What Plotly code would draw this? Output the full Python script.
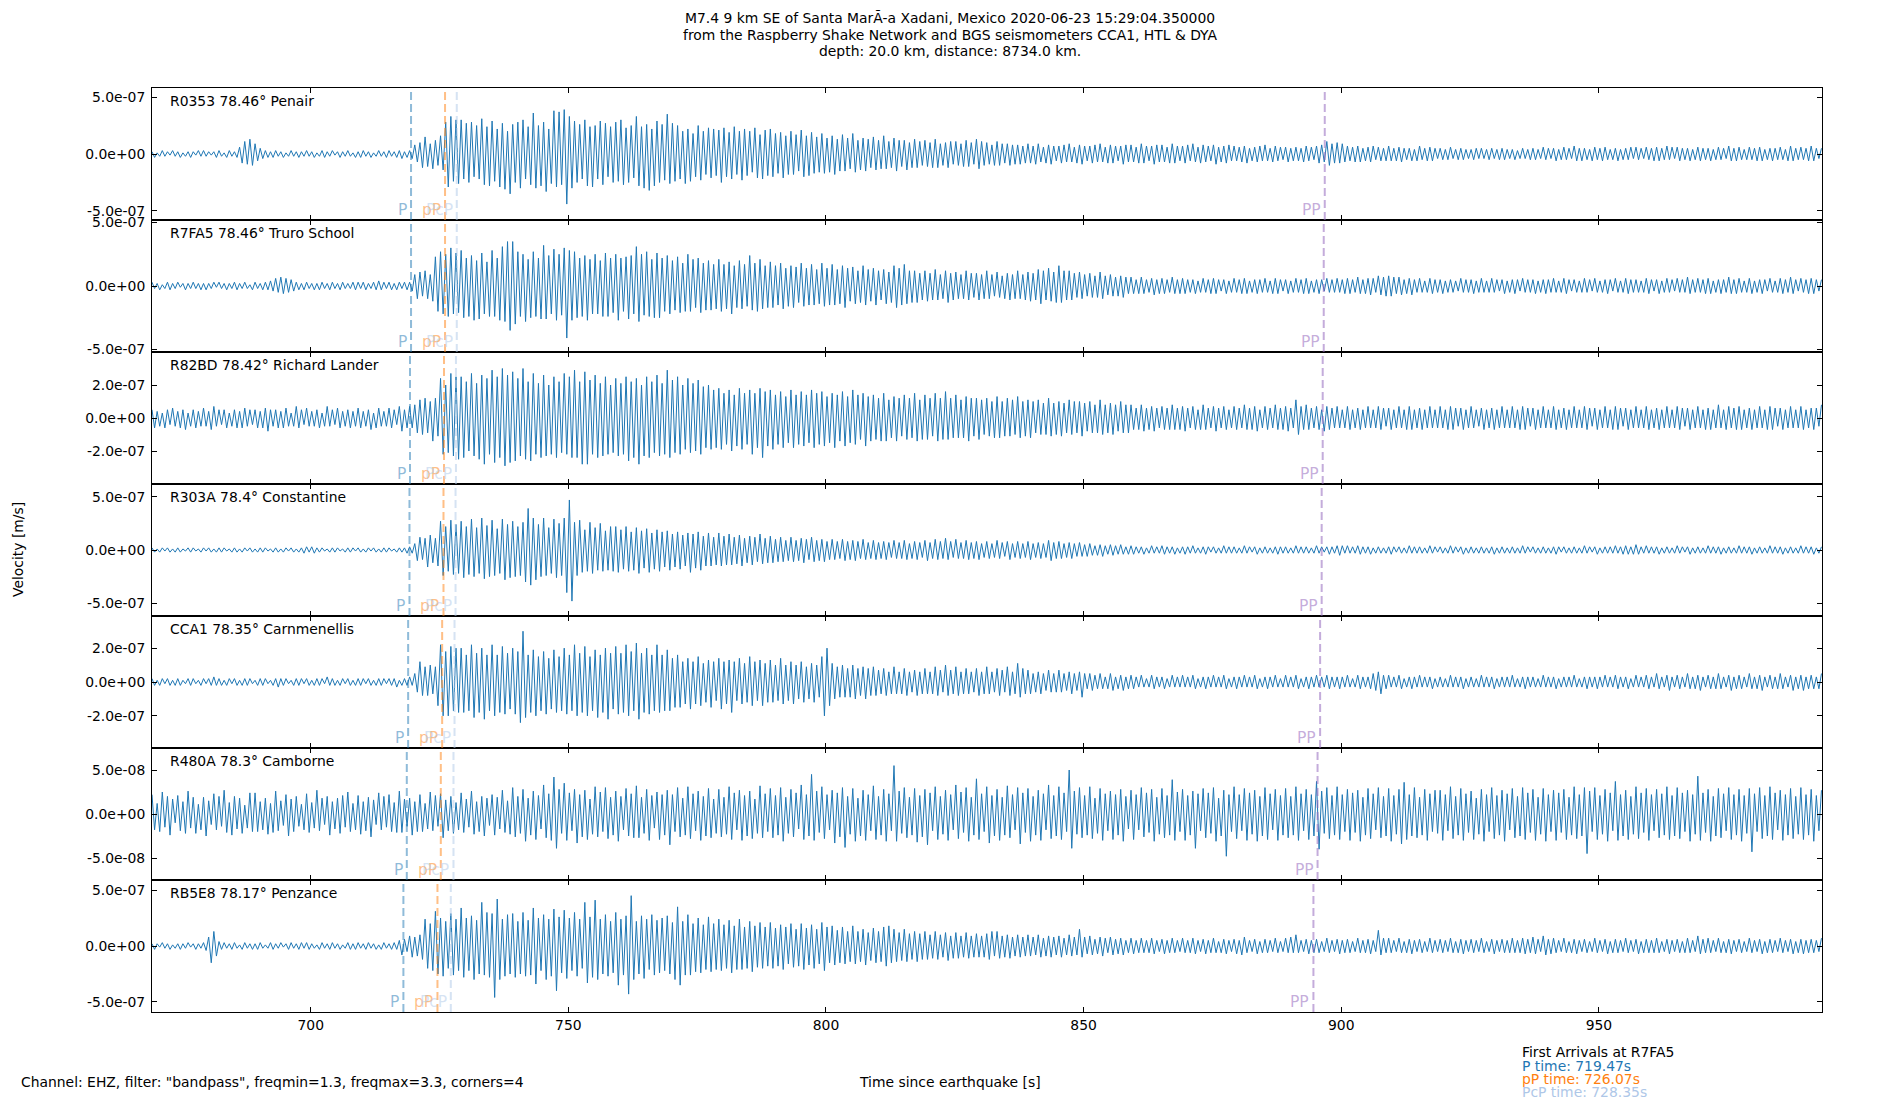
import plotly.graph_objects as go
from plotly.subplots import make_subplots

# traces, one value every half second from T0
T0 = 669.2
DT = 0.5

stations = ["R0353", "R7FA5", "R82BD", "R303A", "CCA1", "R480A", "RB5E8"]
distances = [78.46, 78.46, 78.42, 78.4, 78.35, 78.3, 78.17]
places = ["Penair", "Truro School", "Richard Lander", "Constantine",
          "Carnmenellis", "Camborne", "Penzance"]
units = [1e-8, 1e-8, 1e-8, 1e-8, 1e-8, 1e-9, 1e-8]   # m/s per list unit

# each row is 10 s
vel_r0353 = [
    2, -3, 1, -2, 3, -2, 2, -1, 3, -2, 2, -3, 1, -2, 2, -3, 2, -1, 3, -2,
    3, -2, 2, -1, 2, -3, 3, -2, 1, -3, 3, -2, 2, -3, 6, -8, 11, -9, 13, -10,
    9, -6, 5, -4, 3, -3, 2, -3, 3, -2, 2, -3, 1, -2, 3, -2, 2, -3, 2, -2,
    3, -2, 2, -3, 1, -2, 3, -3, 2, -2, 3, -1, 2, -3, 2, -2, 3, -2, 1, -3,
    2, -3, 3, -2, 2, -3, 1, -2, 3, -2, 2, -3, 3, -2, 2, -3, 3, -4, 2, -3,
    3, -4, 8, -7, 10, -12, 15, -11, 9, -13, 12, -10, 16, -14, 28, -29, 33, -24, 30, -26,
    30, -22, 27, -25, 28, -20, 25, -22, 31, -27, 24, -28, 29, -24, 22, -29, 27, -31, 20, -35,
    26, -25, 28, -30, 30, -22, 24, -27, 36, -30, 25, -28, 28, -33, 22, -26, 38, -29, 37, -27,
    39, -44, 33, -30, 29, -25, 26, -22, 30, -28, 24, -29, 25, -22, 29, -27, 27, -20, 24, -25,
    28, -24, 30, -27, 23, -25, 25, -21, 33, -28, 24, -30, 26, -32, 22, -28, 29, -25, 26, -23,
    35, -26, 27, -24, 25, -22, 20, -26, 22, -24, 18, -20, 25, -23, 20, -18, 23, -21, 22, -19,
    21, -25, 23, -20, 19, -22, 24, -18, 20, -23, 22, -19, 20, -16, 23, -21, 17, -22, 21, -19,
    22, -20, 18, -17, 19, -21, 16, -18, 20, -18, 17, -15, 21, -20, 16, -19, 19, -17, 15, -16,
    18, -17, 14, -16, 16, -18, 13, -15, 17, -15, 14, -13, 18, -16, 12, -14, 14, -15, 13, -12,
    15, -14, 12, -13, 16, -13, 11, -12, 14, -15, 12, -11, 12, -14, 10, -12, 13, -12, 11, -10,
    12, -11, 10, -12, 13, -12, 9, -10, 10, -12, 11, -9, 11, -10, 9, -11, 12, -11, 10, -9,
    13, -13, 11, -10, 10, -9, 8, -10, 11, -10, 9, -8, 9, -10, 8, -9, 8, -9, 7, -8,
    9, -8, 7, -9, 9, -7, 6, -8, 8, -9, 7, -6, 7, -8, 8, -7, 9, -7, 6, -8,
    8, -9, 7, -6, 7, -8, 8, -7, 9, -7, 6, -8, 8, -8, 7, -6, 7, -9, 8, -7,
    8, -7, 6, -8, 9, -8, 7, -6, 7, -9, 8, -7, 8, -7, 6, -8, 9, -8, 7, -6,
    7, -8, 8, -6, 9, -7, 6, -8, 8, -7, 7, -6, 8, -9, 6, -7, 7, -8, 8, -6,
    7, -6, 6, -7, 7, -8, 5, -6, 6, -7, 7, -6, 8, -6, 5, -7, 7, -6, 6, -5,
    6, -7, 5, -6, 6, -6, 5, -7, 7, -6, 6, -5, 7, -8, 8, -7, 11, -10, 9, -8,
    10, -8, 9, -7, 7, -6, 6, -7, 7, -7, 5, -6, 6, -7, 7, -5, 6, -6, 5, -6,
    7, -6, 5, -6, 6, -7, 5, -5, 5, -6, 4, -6, 7, -5, 5, -6, 6, -6, 5, -4,
    5, -5, 4, -5, 6, -4, 4, -5, 5, -5, 4, -4, 4, -5, 5, -4, 5, -4, 4, -5,
    5, -4, 4, -5, 5, -5, 4, -4, 4, -5, 3, -4, 5, -4, 4, -5, 5, -5, 4, -4,
    6, -5, 5, -4, 5, -6, 4, -5, 6, -5, 5, -4, 7, -6, 5, -6, 5, -5, 4, -6,
    6, -5, 5, -6, 6, -5, 4, -5, 5, -6, 4, -5, 5, -5, 6, -4, 6, -5, 5, -4,
    6, -5, 5, -6, 6, -6, 5, -5, 7, -5, 6, -4, 6, -6, 5, -5, 5, -6, 4, -5,
    6, -6, 5, -5, 5, -6, 4, -5, 6, -5, 5, -4, 7, -6, 5, -6, 6, -5, 4, -5,
    6, -5, 5, -6, 6, -6, 4, -5, 5, -6, 5, -5, 6, -5, 4, -6, 7, -6, 5, -5,
    6, -5, 5, -6, 7, -6, 5, -4, 5,
]

vel_r7fa5 = [
    3, -2, 2, -3, 1, -2, 3, -3, 2, -2, 3, -1, 2, -3, 2, -2, 3, -2, 2, -3,
    2, -3, 2, -2, 3, -1, 3, -2, 2, -3, 2, -2, 3, -3, 2, -2, 3, -2, 1, -3,
    3, -2, 2, -3, 3, -3, 4, -4, 6, -5, 7, -6, 6, -5, 5, -4, 3, -3, 2, -3,
    3, -2, 2, -3, 2, -3, 3, -2, 2, -3, 3, -2, 2, -3, 3, -2, 2, -2, 3, -3,
    3, -2, 3, -3, 2, -2, 3, -3, 4, -3, 3, -2, 3, -3, 2, -3, 3, -2, 3, -3,
    3, -4, 9, -10, 11, -8, 12, -10, 9, -12, 23, -20, 27, -22, 25, -24, 30, -22, 26, -21,
    28, -25, 22, -24, 24, -27, 20, -26, 26, -22, 19, -24, 28, -24, 22, -27, 31, -28, 35, -35,
    35, -30, 27, -24, 25, -28, 21, -25, 27, -24, 22, -26, 32, -26, 24, -22, 29, -27, 25, -23,
    30, -41, 28, -27, 27, -25, 22, -24, 24, -27, 21, -22, 25, -22, 20, -24, 26, -24, 22, -21,
    25, -27, 22, -20, 23, -26, 24, -22, 31, -28, 25, -23, 27, -24, 21, -25, 26, -25, 22, -20,
    24, -22, 20, -19, 23, -21, 18, -20, 25, -20, 21, -17, 22, -21, 18, -19, 20, -19, 17, -18,
    21, -20, 17, -18, 19, -22, 16, -17, 20, -18, 17, -16, 24, -19, 18, -20, 21, -18, 16, -17,
    19, -17, 16, -15, 18, -18, 14, -16, 16, -17, 15, -13, 18, -16, 14, -15, 17, -15, 13, -14,
    18, -16, 14, -15, 17, -15, 13, -14, 16, -17, 14, -12, 15, -14, 12, -13, 16, -15, 13, -12,
    14, -15, 12, -11, 13, -14, 11, -13, 16, -17, 14, -15, 17, -14, 12, -13, 12, -13, 10, -11,
    12, -12, 10, -11, 13, -11, 9, -10, 12, -13, 10, -11, 11, -10, 9, -10, 12, -11, 10, -9,
    10, -11, 9, -10, 12, -10, 9, -8, 11, -9, 8, -10, 10, -11, 9, -10, 12, -10, 9, -11,
    11, -12, 10, -11, 13, -14, 12, -11, 14, -12, 11, -13, 16, -13, 12, -11, 12, -11, 10, -9,
    11, -10, 9, -8, 10, -9, 8, -9, 11, -10, 8, -7, 9, -8, 7, -8, 8, -9, 7, -6,
    7, -6, 5, -6, 7, -6, 5, -5, 6, -7, 5, -6, 6, -6, 5, -5, 7, -6, 5, -6,
    6, -6, 5, -5, 5, -6, 4, -5, 6, -5, 5, -6, 6, -6, 5, -4, 5, -6, 4, -5,
    6, -5, 5, -6, 6, -6, 4, -5, 5, -6, 5, -5, 6, -5, 4, -6, 6, -6, 5, -4,
    5, -6, 4, -5, 6, -5, 5, -6, 6, -6, 4, -5, 5, -6, 5, -4, 6, -5, 5, -5,
    6, -5, 5, -6, 6, -6, 5, -5, 7, -6, 5, -6, 6, -7, 6, -5, 8, -7, 7, -8,
    8, -8, 7, -6, 7, -7, 5, -6, 6, -7, 5, -5, 6, -5, 4, -5, 6, -6, 5, -5,
    5, -6, 4, -5, 5, -5, 4, -4, 6, -5, 5, -5, 5, -6, 4, -5, 6, -5, 4, -5,
    6, -5, 5, -4, 5, -6, 4, -5, 5, -6, 5, -4, 6, -5, 5, -5, 5, -6, 4, -5,
    5, -6, 5, -5, 6, -5, 4, -5, 6, -6, 5, -4, 5, -5, 4, -5, 6, -5, 5, -4,
    6, -5, 4, -5, 5, -6, 5, -4, 6, -5, 4, -5, 6, -6, 5, -5, 5, -5, 4, -5,
    6, -6, 5, -4, 5, -6, 4, -5, 6, -5, 5, -4, 6, -5, 5, -5, 7, -6, 5, -5,
    6, -5, 5, -6, 6, -6, 4, -5, 5, -6, 5, -5, 7, -6, 5, -6, 6, -5, 4, -5,
    6, -6, 4, -5, 5, -6, 5, -4, 6, -5, 4, -5, 6, -6, 5, -5, 7, -6, 5, -4,
    6, -5, 5, -6, 6, -6, 5, -4, 5,
]

vel_r82bd = [
    5, -6, 4, -5, 3, -6, 5, -4, 6, -5, 4, -6, 5, -7, 3, -5, 5, -6, 4, -5,
    6, -5, 4, -7, 7, -5, 5, -4, 5, -6, 3, -5, 5, -6, 4, -6, 6, -5, 5, -4,
    5, -6, 4, -6, 6, -8, 5, -5, 5, -6, 4, -6, 6, -5, 3, -5, 7, -6, 5, -4,
    6, -5, 4, -5, 5, -6, 3, -5, 7, -5, 5, -4, 6, -6, 4, -5, 5, -6, 4, -5,
    6, -6, 4, -5, 5, -7, 3, -6, 6, -5, 4, -5, 6, -6, 5, -4, 7, -8, 5, -6,
    7, -6, 8, -9, 11, -10, 12, -9, 10, -14, 12, -11, 24, -22, 20, -21, 27, -23, 25, -25,
    25, -24, 22, -20, 27, -23, 21, -25, 26, -28, 24, -22, 29, -27, 25, -24, 30, -29, 26, -27,
    28, -26, 24, -23, 30, -25, 22, -26, 27, -22, 21, -24, 26, -23, 20, -22, 25, -24, 22, -21,
    27, -22, 25, -24, 29, -24, 22, -28, 28, -28, 23, -22, 26, -24, 21, -23, 25, -22, 20, -21,
    24, -23, 21, -22, 25, -26, 22, -24, 24, -28, 20, -23, 25, -24, 22, -21, 26, -23, 21, -22,
    29, -24, 23, -21, 25, -22, 20, -19, 24, -21, 21, -20, 23, -22, 19, -18, 20, -19, 17, -18,
    18, -19, 15, -16, 17, -20, 14, -17, 18, -19, 15, -16, 17, -22, 15, -18, 18, -24, 16, -17,
    17, -19, 14, -16, 16, -18, 13, -15, 17, -18, 14, -16, 16, -17, 14, -15, 17, -18, 15, -16,
    16, -17, 13, -15, 15, -18, 14, -14, 16, -17, 13, -15, 17, -16, 14, -13, 15, -17, 13, -14,
    14, -13, 12, -14, 15, -14, 11, -12, 13, -14, 12, -11, 14, -13, 12, -12, 15, -14, 11, -13,
    14, -13, 12, -11, 15, -14, 12, -13, 16, -13, 12, -12, 14, -12, 11, -12, 13, -14, 12, -11,
    12, -13, 11, -10, 12, -11, 10, -12, 13, -12, 10, -11, 12, -11, 11, -10, 13, -12, 10, -11,
    11, -12, 10, -9, 11, -10, 9, -10, 12, -11, 9, -10, 10, -11, 9, -9, 11, -10, 10, -9,
    10, -11, 9, -8, 10, -9, 8, -9, 11, -10, 8, -9, 9, -10, 8, -8, 10, -9, 8, -9,
    8, -7, 6, -7, 8, -8, 6, -7, 7, -8, 6, -6, 7, -7, 6, -7, 8, -7, 6, -7,
    7, -8, 6, -6, 7, -7, 5, -7, 8, -7, 6, -6, 7, -8, 6, -6, 7, -7, 5, -6,
    7, -7, 6, -6, 8, -7, 6, -7, 7, -8, 5, -6, 7, -7, 6, -6, 8, -7, 6, -7,
    7, -8, 6, -6, 11, -10, 7, -7, 8, -7, 6, -6, 7, -7, 5, -8, 7, -7, 6, -6,
    7, -6, 5, -6, 7, -7, 5, -6, 6, -7, 5, -6, 7, -6, 5, -6, 7, -7, 6, -5,
    6, -7, 5, -6, 7, -6, 5, -7, 7, -7, 5, -6, 6, -7, 5, -6, 7, -6, 5, -6,
    7, -6, 5, -7, 7, -7, 6, -5, 6, -7, 5, -6, 7, -6, 5, -5, 6, -7, 5, -6,
    6, -7, 5, -6, 7, -6, 5, -6, 7, -6, 5, -7, 7, -7, 6, -5, 6, -7, 5, -6,
    7, -6, 5, -6, 7, -7, 5, -6, 6, -7, 5, -6, 7, -6, 5, -6, 7, -7, 6, -5,
    6, -7, 5, -6, 7, -6, 5, -7, 7, -7, 6, -5, 6, -7, 5, -6, 7, -6, 5, -6,
    7, -7, 5, -6, 6, -7, 5, -6, 7, -6, 5, -6, 7, -7, 6, -5, 6, -7, 5, -6,
    7, -6, 5, -7, 6, -7, 5, -6, 8, -6, 5, -7, 7, -6, 6, -7, 7, -7, 5, -6,
    6, -7, 5, -6, 7, -6, 5, -7, 7, -7, 6, -5, 6, -7, 5, -6, 7, -6, 5, -6,
    7, -7, 5, -6, 6, -7, 6, -5, 8,
]

vel_r303a = [
    2, -2, 1, -2, 2, -1, 2, -2, 1, -2, 2, -2, 1, -1, 2, -2, 2, -1, 1, -2,
    2, -1, 2, -2, 1, -2, 2, -2, 2, -1, 1, -2, 2, -2, 1, -2, 2, -1, 2, -2,
    1, -2, 2, -2, 2, -1, 1, -2, 2, -2, 1, -2, 2, -1, 2, -2, 1, -2, 2, -3,
    3, -2, 3, -3, 2, -2, 2, -1, 1, -2, 2, -2, 2, -1, 1, -2, 2, -2, 2, -1,
    2, -2, 1, -2, 2, -1, 2, -2, 1, -2, 2, -2, 2, -1, 1, -2, 2, -2, 2, -3,
    3, -3, 6, -10, 12, -9, 11, -16, 14, -12, 11, -15, 27, -24, 22, -20, 28, -23, 24, -22,
    27, -26, 22, -23, 29, -25, 21, -22, 30, -27, 23, -25, 28, -24, 20, -22, 29, -28, 24, -26,
    27, -25, 22, -24, 26, -30, 39, -33, 30, -28, 24, -25, 30, -24, 21, -22, 29, -26, 25, -24,
    30, -40, 47, -48, 26, -24, 28, -21, 19, -20, 26, -22, 21, -19, 25, -20, 18, -19, 22, -20,
    22, -21, 19, -18, 22, -20, 17, -19, 21, -22, 18, -17, 20, -21, 16, -18, 19, -20, 17, -16,
    18, -19, 15, -16, 17, -18, 14, -15, 16, -21, 15, -17, 17, -19, 13, -15, 16, -15, 12, -14,
    16, -15, 13, -14, 15, -14, 12, -13, 14, -15, 11, -12, 13, -14, 12, -11, 15, -13, 11, -12,
    13, -12, 10, -11, 12, -11, 9, -10, 12, -11, 9, -10, 11, -12, 10, -9, 12, -11, 9, -10,
    10, -11, 8, -9, 10, -9, 8, -8, 10, -10, 8, -9, 9, -10, 8, -8, 10, -9, 7, -8,
    9, -9, 7, -8, 8, -9, 7, -7, 9, -8, 7, -8, 9, -9, 6, -8, 8, -9, 7, -7,
    9, -10, 7, -8, 10, -9, 8, -8, 11, -9, 8, -7, 10, -8, 7, -8, 9, -9, 7, -8,
    8, -9, 6, -7, 8, -8, 6, -7, 9, -8, 7, -6, 8, -9, 6, -7, 8, -8, 6, -7,
    8, -9, 6, -7, 7, -8, 6, -7, 9, -10, 7, -8, 8, -8, 6, -7, 7, -8, 6, -6,
    7, -6, 5, -6, 6, -5, 4, -5, 5, -6, 4, -4, 5, -5, 4, -4, 5, -4, 3, -4,
    4, -4, 3, -3, 3, -4, 2, -3, 4, -3, 3, -3, 4, -4, 3, -3, 3, -4, 2, -3,
    3, -4, 3, -3, 4, -3, 2, -3, 3, -4, 3, -2, 3, -3, 2, -3, 4, -3, 3, -3,
    3, -3, 2, -3, 4, -3, 3, -2, 3, -4, 2, -3, 3, -3, 2, -3, 3, -4, 3, -3,
    3, -3, 2, -3, 4, -3, 3, -3, 3, -3, 2, -3, 4, -3, 3, -2, 3, -4, 3, -3,
    4, -5, 4, -3, 4, -3, 3, -3, 4, -4, 3, -3, 3, -4, 2, -3, 3, -3, 2, -3,
    3, -4, 3, -2, 3, -3, 2, -3, 4, -3, 3, -3, 3, -3, 2, -3, 4, -3, 3, -2,
    3, -3, 2, -3, 4, -3, 3, -2, 3, -4, 2, -3, 3, -3, 2, -3, 3, -3, 2, -3,
    3, -4, 2, -3, 3, -3, 2, -3, 3, -3, 2, -3, 4, -3, 3, -2, 3, -3, 2, -3,
    3, -3, 2, -3, 3, -4, 3, -2, 3, -3, 2, -3, 3, -3, 2, -3, 4, -3, 3, -2,
    3, -4, 2, -3, 3, -3, 3, -3, 4, -3, 3, -4, 4, -4, 3, -4, 5, -4, 3, -3,
    4, -3, 3, -3, 3, -4, 2, -3, 3, -3, 2, -3, 4, -3, 3, -2, 3, -4, 2, -3,
    3, -3, 2, -3, 4, -3, 3, -3, 3, -4, 2, -3, 3, -3, 2, -3, 4, -3, 3, -3,
    3, -4, 2, -3, 3, -3, 2, -3, 4, -3, 3, -3, 3, -4, 2, -3, 3, -3, 2, -3,
    4, -3, 3, -3, 3, -4, 2, -3, 3,
]

vel_cca1 = [
    2, -2, 1, -2, 2, -1, 2, -2, 1, -2, 2, -2, 1, -1, 2, -2, 2, -1, 1, -2,
    2, -1, 2, -2, 3, -2, 2, -2, 1, -2, 2, -1, 2, -2, 1, -2, 2, -2, 2, -1,
    1, -2, 2, -2, 2, -1, 1, -2, 2, -3, 2, -2, 2, -1, 1, -2, 2, -2, 2, -1,
    2, -2, 1, -2, 2, -2, 2, -1, 3, -2, 2, -2, 1, -2, 2, -1, 2, -2, 1, -2,
    2, -2, 2, -1, 2, -2, 1, -2, 2, -2, 2, -1, 2, -2, 2, -3, 1, -2, 2, -2,
    3, -2, 5, -6, 12, -8, 9, -8, 10, -7, 9, -14, 22, -20, 18, -20, 21, -17, 20, -18,
    20, -18, 16, -17, 22, -21, 17, -18, 20, -22, 16, -17, 22, -20, 16, -18, 21, -19, 17, -16,
    20, -19, 18, -24, 30, -21, 16, -18, 19, -20, 15, -17, 18, -19, 14, -16, 19, -18, 15, -17,
    20, -19, 16, -17, 22, -20, 17, -18, 21, -20, 15, -17, 19, -21, 16, -18, 20, -22, 17, -16,
    21, -19, 17, -18, 22, -20, 18, -17, 23, -22, 17, -18, 20, -19, 16, -17, 22, -18, 16, -17,
    19, -17, 14, -15, 16, -15, 12, -13, 14, -16, 12, -13, 15, -14, 11, -12, 13, -15, 12, -11,
    14, -16, 12, -13, 13, -18, 12, -11, 14, -13, 11, -12, 15, -14, 12, -11, 13, -14, 11, -12,
    13, -12, 10, -11, 14, -13, 10, -11, 12, -13, 10, -10, 12, -12, 9, -10, 11, -12, 10, -9,
    15, -20, 20, -14, 11, -10, 9, -9, 10, -9, 8, -9, 10, -10, 8, -8, 9, -10, 8, -8,
    9, -8, 7, -7, 8, -8, 6, -7, 9, -7, 6, -7, 8, -8, 6, -6, 7, -8, 6, -7,
    8, -7, 6, -7, 9, -8, 7, -6, 10, -8, 7, -7, 9, -8, 6, -7, 8, -7, 6, -6,
    8, -8, 6, -7, 9, -7, 6, -6, 8, -8, 7, -6, 9, -8, 6, -7, 11, -9, 8, -7,
    7, -7, 5, -6, 6, -7, 5, -5, 7, -6, 5, -6, 7, -6, 5, -5, 6, -7, 5, -5,
    6, -9, 5, -4, 5, -5, 4, -4, 5, -4, 3, -4, 5, -5, 3, -4, 4, -5, 3, -4,
    4, -4, 3, -3, 4, -3, 2, -3, 4, -4, 3, -3, 3, -4, 2, -3, 4, -3, 3, -3,
    4, -3, 3, -3, 4, -4, 2, -3, 3, -4, 3, -3, 4, -3, 3, -3, 4, -4, 2, -3,
    3, -4, 3, -3, 4, -3, 3, -3, 4, -4, 2, -3, 3, -4, 3, -3, 4, -3, 2, -3,
    4, -3, 3, -3, 4, -4, 2, -3, 3, -4, 3, -3, 4, -3, 3, -3, 4, -4, 3, -3,
    3, -4, 3, -3, 4, -3, 2, -3, 4, -4, 3, -3, 3, -4, 5, -5, 6, -7, 4, -4,
    4, -3, 3, -3, 4, -4, 2, -3, 3, -4, 3, -3, 4, -3, 3, -3, 3, -4, 2, -3,
    3, -3, 2, -3, 4, -3, 3, -3, 3, -4, 2, -3, 3, -3, 2, -3, 4, -3, 3, -3,
    3, -4, 2, -3, 3, -3, 3, -3, 4, -3, 2, -3, 3, -4, 3, -3, 3, -3, 2, -3,
    4, -3, 3, -3, 3, -4, 2, -3, 3, -3, 3, -3, 4, -3, 2, -3, 3, -4, 3, -3,
    3, -4, 3, -3, 4, -3, 3, -3, 4, -4, 3, -3, 3, -4, 2, -3, 4, -3, 3, -3,
    4, -4, 3, -3, 5, -4, 3, -3, 4, -5, 3, -3, 4, -4, 3, -3, 5, -4, 3, -4,
    4, -5, 3, -3, 4, -4, 3, -4, 5, -4, 3, -3, 4, -5, 3, -4, 4, -4, 3, -3,
    5, -4, 3, -4, 4, -5, 3, -3, 4, -4, 3, -4, 5, -4, 3, -3, 4, -5, 3, -4,
    4, -5, 3, -4, 4, -4, 3, -4, 5,
]

vel_r480a = [
    22, -18, 12, -20, 25, -15, 20, -24, 17, -10, 21, -19, 14, -22, 26, -16, 19, -22, 11, -18,
    19, -25, 15, -12, 23, -18, 20, -14, 27, -21, 13, -24, 20, -17, 18, -22, 10, -16, 24, -20,
    24, -20, 14, -18, 18, -23, 12, -21, 26, -19, 15, -13, 22, -25, 17, -20, 20, -14, 11, -18,
    23, -21, 13, -16, 27, -19, 18, -12, 20, -24, 14, -17, 18, -22, 21, -15, 25, -20, 12, -18,
    21, -23, 14, -19, 19, -26, 16, -12, 24, -18, 20, -15, 22, -20, 13, -21, 26, -21, 17, -14,
    18, -24, 14, -20, 22, -20, 12, -17, 25, -19, 21, -14, 23, -27, 16, -19, 20, -22, 13, -18,
    24, -21, 17, -15, 26, -23, 14, -20, 20, -25, 18, -13, 22, -24, 19, -17, 27, -21, 15, -23,
    30, -26, 20, -22, 28, -31, 18, -24, 26, -29, 21, -17, 33, -27, 23, -30, 42, -39, 28, -22,
    35, -30, 24, -19, 28, -33, 22, -26, 27, -29, 17, -23, 31, -26, 25, -20, 30, -28, 19, -24,
    26, -31, 20, -18, 29, -25, 23, -27, 32, -27, 19, -22, 28, -30, 21, -16, 25, -29, 22, -24,
    27, -35, 22, -20, 30, -26, 18, -24, 31, -28, 23, -19, 26, -30, 20, -25, 29, -27, 17, -22,
    28, -26, 19, -23, 31, -29, 24, -18, 27, -30, 21, -25, 26, -28, 17, -22, 32, -27, 23, -20,
    29, -27, 21, -24, 30, -31, 19, -22, 28, -26, 24, -17, 33, -29, 22, -25, 45, -30, 26, -21,
    31, -28, 22, -18, 27, -33, 24, -26, 30, -38, 20, -23, 29, -31, 18, -25, 27, -30, 22, -19,
    32, -29, 20, -24, 28, -31, 23, -19, 55, -31, 26, -22, 30, -27, 19, -24, 29, -32, 21, -26,
    28, -35, 24, -19, 31, -29, 20, -23, 27, -30, 22, -18, 33, -28, 25, -21, 30, -31, 19, -24,
    40, -29, 23, -20, 31, -33, 21, -25, 28, -30, 19, -24, 32, -27, 22, -18, 30, -34, 24, -21,
    29, -31, 20, -24, 27, -30, 23, -18, 33, -28, 21, -25, 31, -29, 24, -20, 50, -39, 26, -23,
    30, -27, 21, -24, 31, -28, 18, -22, 29, -30, 23, -19, 26, -29, 22, -24, 28, -31, 20, -17,
    27, -29, 22, -18, 30, -26, 24, -21, 28, -31, 19, -23, 29, -27, 21, -24, 39, -30, 25, -20,
    28, -30, 21, -24, 26, -39, 23, -19, 29, -27, 24, -22, 30, -31, 18, -25, 27, -48, 22, -20,
    31, -28, 22, -19, 29, -30, 24, -23, 27, -31, 20, -25, 30, -29, 23, -18, 28, -30, 21, -24,
    29, -27, 20, -24, 31, -30, 23, -19, 28, -29, 22, -25, 37, -40, 26, -22, 30, -28, 21, -24,
    31, -29, 22, -20, 28, -30, 24, -21, 27, -31, 19, -24, 29, -28, 23, -18, 30, -27, 20, -25,
    29, -31, 21, -23, 28, -34, 36, -29, 22, -25, 30, -27, 19, -24, 28, -30, 23, -20, 27, -22,
    27, -30, 22, -19, 31, -28, 20, -24, 29, -30, 23, -21, 26, -29, 18, -23, 28, -31, 22, -20,
    30, -28, 21, -24, 27, -31, 23, -18, 29, -27, 20, -25, 30, -29, 24, -21, 28, -30, 19, -23,
    29, -31, 22, -20, 27, -30, 24, -21, 28, -29, 19, -24, 31, -28, 22, -25, 30, -45, 26, -20,
    30, -29, 21, -23, 28, -31, 24, -19, 37, -30, 22, -25, 27, -29, 20, -23, 31, -28, 24, -21,
    29, -30, 22, -19, 28, -27, 23, -24, 31, -29, 21, -25, 30, -28, 24, -20, 27, -31, 22, -23,
    43, -30, 24, -21, 28, -31, 20, -25, 29, -27, 23, -19, 30, -29, 22, -24, 28, -31, 21, -22,
    29, -43, 23, -20, 30, -28, 21, -25, 31, -29, 24, -18, 27, -30, 22, -24, 29, -28, 20, -23,
    30, -29, 22, -24, 28, -31, 21, -19, 27,
]

vel_rb5e8 = [
    2, -3, 2, -1, 3, -2, 2, -3, 1, -2, 2, -3, 2, -2, 3, -1, 2, -3, 2, -2,
    3, -4, 8, -15, 13, -9, 4, -3, 3, -2, 2, -3, 3, -2, 1, -3, 3, -2, 2, -3,
    2, -3, 3, -2, 1, -2, 3, -3, 2, -2, 3, -1, 2, -3, 3, -2, 2, -3, 3, -2,
    3, -3, 2, -2, 1, -3, 3, -2, 2, -3, 3, -2, 2, -3, 1, -2, 3, -3, 2, -3,
    3, -2, 2, -3, 3, -2, 2, -3, 1, -3, 3, -2, 2, -3, 3, -3, 5, -8, 6, -5,
    9, -10, 8, -9, 10, -12, 24, -20, 20, -22, 31, -25, 25, -27, 22, -20, 29, -26, 24, -22,
    34, -28, 25, -22, 27, -30, 23, -25, 39, -26, 30, -28, 29, -46, 42, -30, 24, -27, 28, -25,
    29, -28, 22, -25, 30, -27, 23, -26, 34, -34, 25, -22, 28, -30, 24, -27, 33, -40, 26, -24,
    32, -29, 25, -22, 30, -27, 24, -20, 39, -33, 26, -28, 41, -30, 24, -25, 28, -27, 22, -24,
    30, -35, 24, -26, 27, -43, 45, -30, 22, -25, 27, -29, 24, -21, 28, -26, 23, -24, 25, -22,
    27, -25, 21, -30, 35, -35, 22, -26, 28, -26, 20, -23, 25, -24, 19, -21, 26, -23, 20, -21,
    24, -22, 19, -20, 23, -24, 18, -21, 24, -21, 17, -20, 22, -23, 18, -19, 21, -20, 17, -18,
    21, -20, 16, -18, 19, -21, 17, -16, 20, -19, 15, -18, 20, -21, 16, -17, 19, -20, 15, -16,
    21, -22, 17, -15, 18, -17, 14, -15, 17, -16, 13, -14, 18, -16, 13, -14, 15, -17, 12, -13,
    16, -15, 13, -14, 17, -18, 18, -15, 15, -14, 12, -13, 15, -14, 11, -12, 13, -14, 11, -12,
    13, -12, 10, -11, 13, -12, 10, -10, 12, -13, 9, -11, 12, -11, 9, -10, 12, -11, 9, -10,
    11, -10, 9, -10, 11, -12, 13, -9, 13, -11, 9, -10, 10, -11, 8, -9, 10, -10, 8, -9,
    10, -9, 8, -8, 10, -10, 7, -9, 9, -10, 8, -8, 9, -10, 7, -8, 10, -9, 8, -8,
    15, -10, 8, -7, 9, -8, 6, -7, 8, -9, 7, -6, 8, -8, 6, -7, 7, -8, 5, -6,
    7, -7, 5, -6, 7, -6, 5, -6, 7, -7, 5, -5, 6, -7, 5, -6, 7, -6, 5, -5,
    7, -6, 5, -6, 7, -7, 5, -5, 6, -7, 5, -6, 7, -6, 4, -6, 6, -7, 5, -5,
    6, -7, 5, -8, 8, -6, 5, -5, 6, -7, 4, -6, 6, -6, 5, -5, 7, -6, 4, -5,
    7, -6, 8, -6, 10, -6, 5, -5, 6, -7, 5, -6, 6, -6, 4, -5, 7, -6, 5, -5,
    6, -7, 5, -6, 6, -6, 4, -5, 7, -6, 5, -6, 6, -7, 5, -5, 14, -8, 7, -6,
    7, -6, 5, -5, 7, -6, 4, -6, 6, -7, 5, -5, 6, -6, 4, -5, 7, -6, 5, -5,
    6, -6, 5, -5, 7, -6, 4, -6, 6, -7, 5, -5, 6, -6, 5, -5, 7, -6, 4, -5,
    6, -7, 5, -5, 6, -6, 5, -6, 7, -6, 5, -6, 7, -7, 6, -6, 8, -7, 6, -5,
    9, -8, 6, -7, 7, -6, 5, -5, 7, -6, 4, -6, 6, -7, 5, -5, 6, -6, 4, -5,
    7, -6, 5, -5, 6, -7, 4, -6, 6, -6, 5, -5, 7, -6, 5, -5, 6, -7, 4, -6,
    6, -6, 5, -6, 7, -6, 4, -5, 6, -7, 5, -5, 6, -6, 4, -6, 7, -6, 5, -5,
    9, -7, 6, -6, 7, -6, 5, -5, 7, -6, 4, -6, 6, -7, 5, -5, 6, -6, 4, -5,
    7, -6, 5, -5, 6, -7, 4, -6, 6, -6, 5, -5, 7, -6, 5, -5, 6, -7, 4, -6,
    6, -7, 5, -6, 6, -6, 5, -5, 7,
]

traces = [vel_r0353, vel_r7fa5, vel_r82bd, vel_r303a, vel_cca1, vel_r480a, vel_rb5e8]

# predicted phase arrivals per station [s]
p_times = [719.47, 719.47, 719.27, 719.17, 718.91, 718.65, 717.99]
pp_depth_times = [726.07, 726.07, 725.87, 725.77, 725.51, 725.25, 724.60]
pcp_times = [728.35, 728.35, 728.19, 728.11, 727.91, 727.71, 727.19]
pp_times = [896.8, 896.6, 896.4, 896.2, 895.9, 895.4, 894.6]

phase_names = ["P", "pP", "PcP", "PP"]
phase_colours = ["rgba(31,119,180,0.5)", "rgba(255,127,14,0.5)",
                 "rgba(174,199,232,0.5)", "rgba(148,103,189,0.55)"]

y_limits = [5.8e-7, 5.2e-7, 4.0e-7, 6.2e-7, 3.9e-7, 7.5e-8, 5.9e-7]
y_steps = [5e-7, 5e-7, 2e-7, 5e-7, 2e-7, 5e-8, 5e-7]
x_ticks = [700, 750, 800, 850, 900, 950]

FONT = "DejaVu Sans"
W, H = 1900, 1100
L, R, T, B = 152, 78, 88, 88


def px(x):
    return (x - L) / (W - L - R)


def py(y):
    return (H - B - y) / (H - T - B)


fig = make_subplots(rows=7, cols=1, shared_xaxes=True, vertical_spacing=0)

for i, vals in enumerate(traces):
    row = i + 1
    t = [T0 + k * DT for k in range(len(vals))]
    v = [a * units[i] for a in vals]
    fig.add_trace(go.Scatter(x=t, y=v, mode="lines",
                             line=dict(color="#1f77b4", width=1),
                             showlegend=False, hoverinfo="skip"),
                  row=row, col=1)

    xname = "x" if row == 1 else f"x{row}"
    yname = "y" if row == 1 else f"y{row}"
    times = [p_times[i], pp_depth_times[i], pcp_times[i], pp_times[i]]
    for name, tt, col in zip(phase_names, times, phase_colours):
        fig.add_shape(type="line", x0=tt, x1=tt, y0=0, y1=1,
                      xref=xname, yref=f"{yname} domain",
                      line=dict(color=col, width=2, dash="8px,4px"))
        fig.add_annotation(x=tt, y=0, xref=xname, yref=f"{yname} domain",
                           text=name, showarrow=False, xanchor="right",
                           yanchor="bottom", xshift=-3, borderpad=0,
                           font=dict(family=FONT, size=15.5, color=col))

    fig.add_annotation(x=0, y=1, xref=f"{xname} domain", yref=f"{yname} domain",
                       text=f"{stations[i]} {distances[i]}° {places[i]}",
                       showarrow=False, xanchor="left", yanchor="middle",
                       xshift=17, yshift=-13, borderpad=0,
                       font=dict(family=FONT, size=13.9, color="black"))

    s = y_steps[i]
    fig.update_yaxes(range=[-y_limits[i], y_limits[i]],
                     tickvals=[-s, 0, s],
                     ticktext=[f"{-s:.1e}", f"{0:.1e}", f"{s:.1e}"],
                     row=row, col=1)

fig.update_xaxes(range=[669.2, 993.3], tickvals=x_ticks, ticks="inside",
                 ticklen=5, tickcolor="black", showline=True, linecolor="black",
                 linewidth=1, mirror="ticks", showgrid=False, zeroline=False,
                 tickfont=dict(family=FONT, size=13.9, color="black"))
fig.update_yaxes(ticks="inside", ticklen=5, tickcolor="black", showline=True,
                 linecolor="black", linewidth=1, mirror="ticks", showgrid=False,
                 zeroline=False, ticklabelstandoff=3,
                 tickfont=dict(family=FONT, size=13.9, color="black"))

title_lines = [
    "M7.4 9 km SE of Santa MarÃ-a Xadani, Mexico 2020-06-23 15:29:04.350000",
    "from the Raspberry Shake Network and BGS seismometers CCA1, HTL & DYA",
    "depth: 20.0 km, distance: 8734.0 km.",
]
for line, yy in zip(title_lines, [18.5, 34.5, 51]):
    fig.add_annotation(x=px(950), y=py(yy), xref="paper", yref="paper",
                       text=line, showarrow=False, xanchor="center",
                       yanchor="middle", font=dict(family=FONT, size=13.9, color="black"))

fig.add_annotation(x=px(18), y=py(550), xref="paper", yref="paper",
                   text="Velocity [m/s]", textangle=-90, showarrow=False,
                   xanchor="center", yanchor="middle",
                   font=dict(family=FONT, size=13.9, color="black"))
fig.add_annotation(x=px(950), y=py(1082), xref="paper", yref="paper",
                   text="Time since earthquake [s]", showarrow=False,
                   xanchor="center", yanchor="middle",
                   font=dict(family=FONT, size=13.9, color="black"))
fig.add_annotation(x=px(19), y=py(1082), xref="paper", yref="paper",
                   text='Channel: EHZ, filter: "bandpass", freqmin=1.3, freqmax=3.3, corners=4',
                   showarrow=False, xanchor="left", yanchor="middle",
                   font=dict(family=FONT, size=13.9, color="black"))

arrival_lines = [
    ("First Arrivals at R7FA5", "black", 1052),
    (f"P time: {p_times[1]:.2f}s", "#1f77b4", 1066),
    (f"pP time: {pp_depth_times[1]:.2f}s", "#ff7f0e", 1079),
    (f"PcP time: {pcp_times[1]:.2f}s", "#aec7e8", 1092),
]
for text, col, yy in arrival_lines:
    fig.add_annotation(x=px(1520), y=py(yy), xref="paper", yref="paper",
                       text=text, showarrow=False, xanchor="left", yanchor="middle",
                       font=dict(family=FONT, size=13.9, color=col))

fig.update_layout(width=W, height=H, margin=dict(l=L, r=R, t=T, b=B),
                  plot_bgcolor="white", paper_bgcolor="white",
                  font=dict(family=FONT, size=13.9, color="black"),
                  showlegend=False)

# the page body has a default 8px margin; drop it so the figure sits at 0,0
fig.write_html("out.html", config={"displayModeBar": False},
               post_script="document.body.style.margin='0px';")
